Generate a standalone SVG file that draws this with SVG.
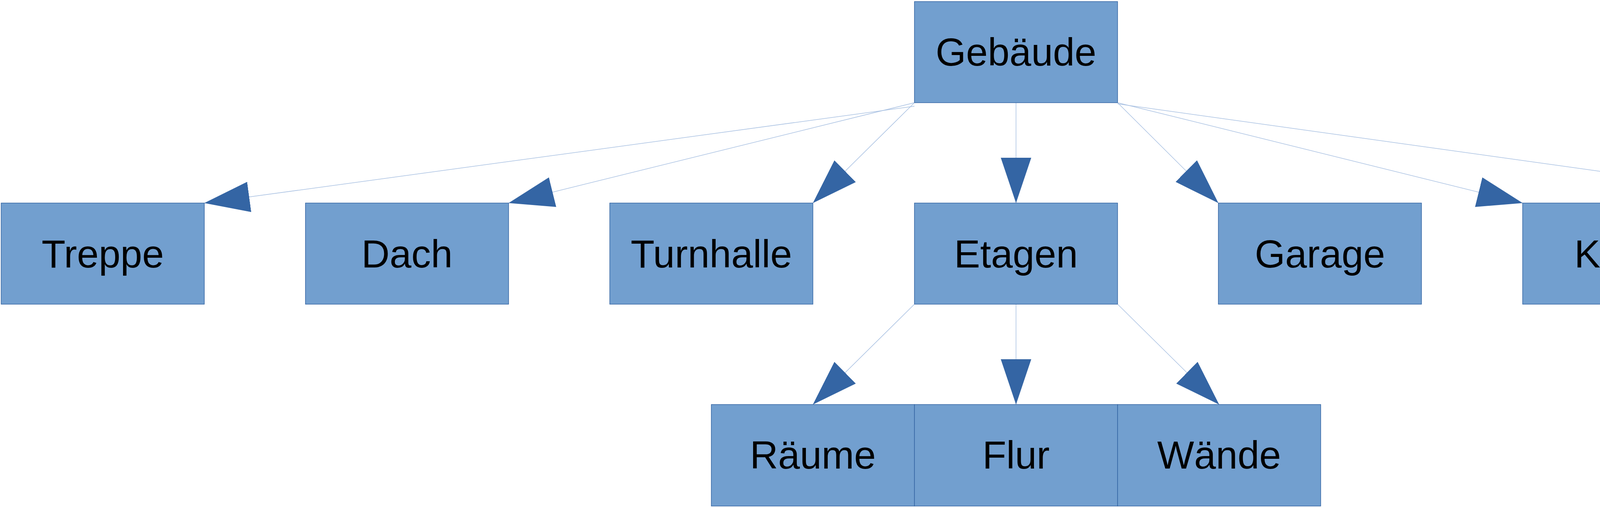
<svg xmlns="http://www.w3.org/2000/svg" width="5333" height="1301" viewBox="0 0 5333 1301">
<style>
.box{fill:#729fcf;stroke:#3465a4;stroke-width:1.5}
.lbl{font-family:"Liberation Sans",Arial,sans-serif;font-size:100px;fill:#000;text-anchor:middle}
.edge{stroke:#a9c1e2;stroke-width:1.5;fill:none;marker-end:url(#arr)}
</style>
<defs>
<marker id="arr" markerUnits="userSpaceOnUse" viewBox="0 -39 116 78" refX="116" refY="0" markerWidth="116" markerHeight="78" orient="auto">
<path d="M0,-39 L116,0 L0,39 Z" fill="#3465a4"/>
</marker>
</defs>
<rect width="5333" height="1301" fill="#fff"/>
<g id="connectors">
<line class="edge" x1="2341" y1="272" x2="523" y2="520"/>
<line class="edge" x1="2341" y1="263" x2="1302" y2="520"/>
<line class="edge" x1="2341" y1="263" x2="2081" y2="520"/>
<line class="edge" x1="2601" y1="263" x2="2601" y2="520"/>
<line class="edge" x1="2861" y1="263" x2="3119" y2="520"/>
<line class="edge" x1="2861" y1="263" x2="3898" y2="520"/>
<line class="edge" x1="2861" y1="266" x2="4677" y2="520"/>
<line class="edge" x1="2341" y1="779" x2="2081" y2="1036"/>
<line class="edge" x1="2601" y1="779" x2="2601" y2="1036"/>
<line class="edge" x1="2861" y1="779" x2="3121" y2="1036"/>
</g>
<g id="n-gebaeude"><rect class="box" x="2341" y="4" width="520" height="259"/><text class="lbl" x="2601" y="168">Gebäude</text></g>
<g id="n-treppe"><rect class="box" x="3" y="520" width="520" height="259"/><text class="lbl" x="263" y="685">Treppe</text></g>
<g id="n-dach"><rect class="box" x="782" y="520" width="520" height="259"/><text class="lbl" x="1042" y="685">Dach</text></g>
<g id="n-turnhalle"><rect class="box" x="1561" y="520" width="520" height="259"/><text class="lbl" x="1821" y="685">Turnhalle</text></g>
<g id="n-etagen"><rect class="box" x="2341" y="520" width="520" height="259"/><text class="lbl" x="2601" y="685">Etagen</text></g>
<g id="n-garage"><rect class="box" x="3119" y="520" width="520" height="259"/><text class="lbl" x="3379" y="685">Garage</text></g>
<g id="n-keller"><rect class="box" x="3898" y="520" width="520" height="259"/><text class="lbl" x="4158" y="685">Keller</text></g>
<g id="n-eingang"><rect class="box" x="4677" y="520" width="650" height="259"/><text class="lbl" x="5002" y="685">Ein-/Ausgang</text></g>
<g id="n-raeume"><rect class="box" x="1821" y="1036" width="520" height="260"/><text class="lbl" x="2081" y="1200">Räume</text></g>
<g id="n-flur"><rect class="box" x="2341" y="1036" width="520" height="260"/><text class="lbl" x="2601" y="1200">Flur</text></g>
<g id="n-waende"><rect class="box" x="2861" y="1036" width="520" height="260"/><text class="lbl" x="3121" y="1200">Wände</text></g>
</svg>
